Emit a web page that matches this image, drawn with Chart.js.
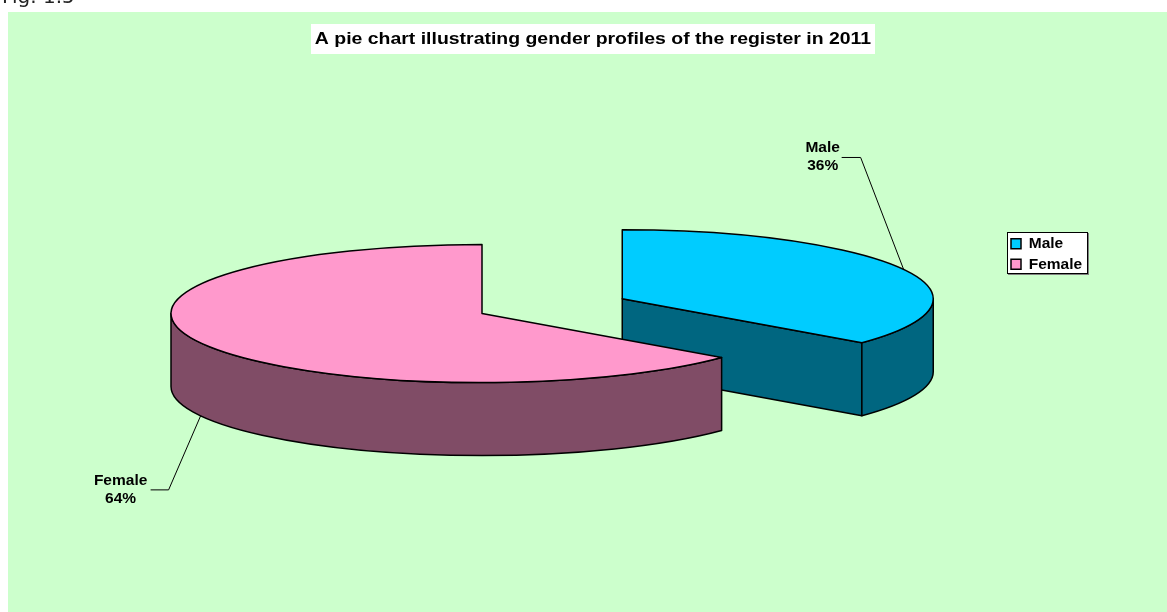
<!DOCTYPE html>
<html><head><meta charset="utf-8">
<script src="https://cdn.jsdelivr.net/npm/chart.js@4"></script>
<style>
html,body{margin:0;padding:0;background:#fff;overflow:hidden;width:1167px;height:612px}
#wrap{position:relative;width:1167px;height:612px}
canvas{position:absolute;left:0;top:0}
#fig{position:absolute;left:2px;top:-16px;font:20px "DejaVu Sans",sans-serif;color:#222;z-index:2;line-height:24px}
</style></head>
<body><div id="wrap"><canvas id="c" width="1167" height="612"></canvas><div id="fig">Fig. 1.5</div></div>
<script>
const categories = ["Male", "Female"];
const values = [36, 64];
const topColors = ["#00CCFF", "#FF99CC"];
const wallColors = ["#006680", "#804C66"];
const explode = [155, 0];
const titleText = "A pie chart illustrating gender profiles of the register in 2011";

const TILT = 0.2219, DEPTH = 73, RADIUS = 311;
const FONT = '"Liberation Sans", Arial, sans-serif';
const legendBox = {left: 1007, top: 232, right: 1088, bottom: 274};
const labelStyles = [
  {elbowDx: -43, elbowDy: -112, endDx: -62, textX: -81, textY: -122},
  {elbowDx: -32, elbowDy: 74, endDx: -50, textX: -80, textY: 65}
];

function centerY(chart) { return (chart.chartArea.top + chart.chartArea.bottom) / 2; }
function geom(chart, arc) {
  const cy = centerY(chart);
  return {
    x: arc.x,
    y: cy + (arc.y - cy) * TILT,
    r: arc.outerRadius, ry: arc.outerRadius * TILT,
    a: arc.startAngle, b: arc.endAngle,
    half: (arc.startAngle + arc.endAngle) / 2
  };
}
function wall(ctx, g, color) {
  ctx.fillStyle = color; ctx.strokeStyle = "#000"; ctx.lineWidth = 1.5; ctx.lineJoin = "round";
  const from = Math.max(g.a, 0), to = Math.min(g.b, Math.PI);
  if (g.a < 0) { // radial cut face that looks toward the viewer
    const ex = g.x + Math.cos(g.b) * g.r, ey = g.y + Math.sin(g.b) * g.ry;
    ctx.beginPath(); ctx.moveTo(g.x, g.y); ctx.lineTo(ex, ey); ctx.lineTo(ex, ey + DEPTH);
    ctx.lineTo(g.x, g.y + DEPTH); ctx.closePath(); ctx.fill(); ctx.stroke();
  }
  ctx.beginPath();
  ctx.ellipse(g.x, g.y, g.r, g.ry, 0, from, to);
  ctx.ellipse(g.x, g.y + DEPTH, g.r, g.ry, 0, to, from, true);
  ctx.closePath(); ctx.fill(); ctx.stroke();
}
const pie3d = {
  id: "pie3d",
  afterLayout(chart) {
    const t = chart.titleBlock; t.left = 311; t.right = 875; t.width = 564;
    if (!t._stretched) {
      t._stretched = true;
      const orig = t.draw.bind(t);
      t.draw = function () {
        const ctx = chart.ctx, cx = (t.left + t.right) / 2;
        ctx.save(); ctx.translate(cx, 0); ctx.scale(1.215, 1); ctx.translate(-cx, 0);
        orig();
        ctx.restore();
      };
    }
    const l = chart.legend;
    l.left = legendBox.left - 1; l.right = legendBox.right; l.top = legendBox.top - 1; l.bottom = legendBox.bottom + 3;
    l.width = l.right - l.left; l.height = l.bottom - l.top;
  },
  afterDatasetsUpdate(chart) {
    chart.getDatasetMeta(0).data.forEach((arc, i) => {
      const half = (arc.startAngle + arc.endAngle) / 2;
      arc.x += Math.cos(half) * explode[i];
      arc.y += Math.sin(half) * explode[i];
    });
  },
  beforeDraw(chart) {
    const ctx = chart.ctx, t = chart.titleBlock, l = legendBox;
    ctx.save();
    ctx.fillStyle = "#CCFFCC"; ctx.fillRect(8, 12, chart.width - 8, chart.height - 12);
    ctx.fillStyle = "#fff"; ctx.fillRect(t.left, 24, t.right - t.left, 30);
    ctx.fillStyle = "#808080"; ctx.fillRect(l.left + 1, l.top + 1, l.right - l.left, l.bottom - l.top);
    ctx.fillStyle = "#fff"; ctx.strokeStyle = "#000"; ctx.lineWidth = 1;
    ctx.fillRect(l.left, l.top, l.right - l.left, l.bottom - l.top);
    ctx.strokeRect(l.left + .5, l.top + .5, l.right - l.left - 1, l.bottom - l.top - 1);
    ctx.restore();
  },
  beforeDatasetsDraw(chart) {
    const ctx = chart.ctx, arcs = chart.getDatasetMeta(0).data;
    ctx.save();
    arcs.forEach((arc, i) => wall(ctx, geom(chart, arc), wallColors[i]));
    ctx.restore();
    const cy = centerY(chart);
    ctx.save();
    ctx.translate(0, cy); ctx.scale(1, TILT); ctx.translate(0, -cy);
  },
  afterDatasetsDraw(chart) {
    const ctx = chart.ctx, arcs = chart.getDatasetMeta(0).data;
    ctx.restore();
    ctx.save();
    ctx.strokeStyle = "#000"; ctx.lineWidth = 1.5; ctx.lineJoin = "round";
    arcs.forEach(arc => {
      const g = geom(chart, arc);
      ctx.beginPath(); ctx.moveTo(g.x, g.y);
      ctx.ellipse(g.x, g.y, g.r, g.ry, 0, g.a, g.b);
      ctx.closePath(); ctx.stroke();
    });
    ctx.restore();
  },
  afterDraw(chart) {
    const ctx = chart.ctx, arcs = chart.getDatasetMeta(0).data;
    const total = values.reduce((s, v) => s + v, 0);
    ctx.save();
    arcs.forEach((arc, i) => {
      const g = geom(chart, arc), st = labelStyles[i];
      const ax = g.x + Math.cos(g.half) * g.r;
      const ay = g.y + Math.sin(g.half) * g.ry + (Math.sin(g.half) > 0 ? DEPTH : 0);
      ctx.strokeStyle = "#000"; ctx.lineWidth = 1;
      ctx.beginPath(); ctx.moveTo(ax, ay);
      ctx.lineTo(ax + st.elbowDx, ay + st.elbowDy);
      ctx.lineTo(ax + st.endDx, ay + st.elbowDy); ctx.stroke();
      ctx.fillStyle = "#000"; ctx.font = "bold 15.5px " + FONT;
      ctx.textAlign = "center"; ctx.textBaseline = "middle";
      const lx = ax + st.textX, ly = ay + st.textY;
      ctx.fillText(categories[i], lx, ly);
      ctx.fillText(Math.round(values[i] / total * 100) + "%", lx, ly + 18);
    });
    ctx.restore();
  }
};

new Chart(document.getElementById("c"), {
  type: "pie",
  data: {
    labels: categories,
    datasets: [{ data: values, backgroundColor: topColors, borderWidth: 0, clip: false }]
  },
  options: {
    responsive: false, animation: false, radius: RADIUS,
    layout: { padding: { left: 0, right: 203, top: 0, bottom: 40 } },
    events: [],
    plugins: {
      tooltip: { enabled: false },
      title: { display: true, text: titleText, color: "#000",
        font: { family: FONT, size: 16, weight: "bold", lineHeight: 1.125 },
        padding: { top: 31, bottom: 6 } },
      legend: { display: true, position: "chartArea", align: "start",
        labels: { color: "#000", font: { family: FONT, size: 15.5, weight: "bold", lineHeight: 1.13 },
          boxWidth: 10, boxHeight: 10, padding: 5,
          generateLabels(chart) {
            return categories.map((c, i) => ({ text: c, fillStyle: topColors[i], strokeStyle: "#000", lineWidth: 1.5, hidden: false, index: i }));
          } } }
    }
  },
  plugins: [pie3d]
});
</script></body></html>
